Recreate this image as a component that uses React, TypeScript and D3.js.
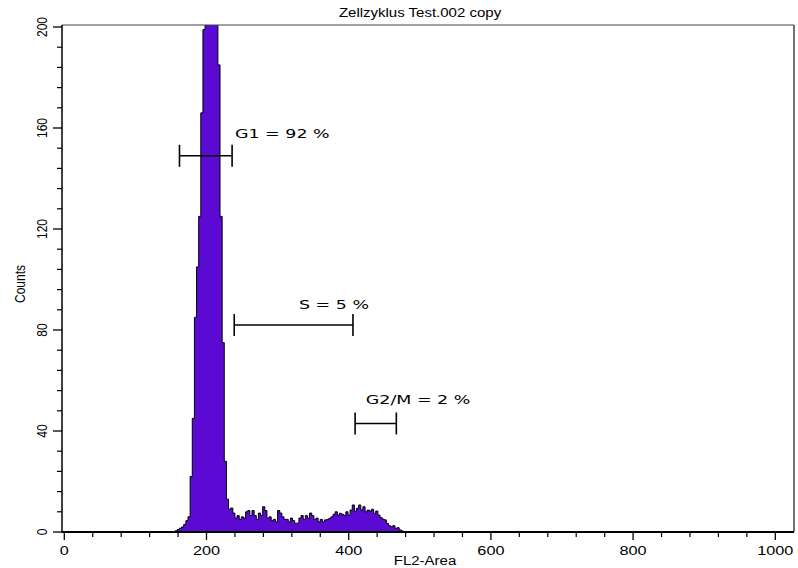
import React from 'react'
import * as d3 from 'd3'

// chart text
const title = 'Zellzyklus Test.002 copy'
const xLabel = 'FL2-Area'
const yLabel = 'Counts'

// histogram: counts per bin of 3 channels, first bin starts at channel 156
const binStart = 156
const binWidth = 3
const counts = [
  0.5, 1, 1.5, 2, 3, 4.5, 6, 22, 45, 85, 105, 125, 166, 199, 225, 250, 260, 255,
  240, 220, 185, 125, 75, 28, 13, 9,
  9.5, 7.5, 5.5, 6.5, 5, 6, 5.5, 8, 8.5, 6.5, 8.5, 6.5, 5, 7.5, 6.5, 10, 8.5,
  5.5, 6, 4.5, 5, 4, 8.5, 7.5, 6, 5, 5, 4, 5.5, 4.5, 3.5, 3.5, 5.5, 6.5, 5,
  6.5, 5.5, 7.5, 6.5, 5, 5.5, 4, 5,
  4, 4.8, 5, 5.4, 6, 7, 8, 6.7, 7.4, 7, 6.5, 8, 6.7, 8.7, 10.7, 8.2, 9.4, 10.7,
  8.7, 10, 8, 8.7, 8.3, 9, 7.4, 8.3, 6.7, 5.7, 5.1, 4.8, 3.4, 2.5, 2.1, 2.5,
  1.5, 1.7, 0.8, 0.4,
]

const xTicks = [0, 200, 400, 600, 800, 1000]
const yTicks = [0, 40, 80, 120, 160, 200]

// cell cycle markers (channels, count level, percent)
const markerNames = ['G1', 'S', 'G2/M']
const markerLow = [162, 239, 409]
const markerHigh = [236, 406, 467]
const markerLevel = [149, 82, 43]
const markerPercent = [92, 5, 2]
const labelChannel = [240, 330, 424]
const labelCount = [156, 88.5, 50.7]

const W = 798
const H = 568
const box = { left: 62, right: 794, top: 25, bottom: 532 }
const purple = '#5a0ad2'
const sans = 'Liberation Sans, Arial, sans-serif'

function Txt({ x, y, sx = 1, rot = false, anchor = 'middle', size = 12, family = sans, children }) {
  const t = rot
    ? `translate(${x},${y}) rotate(-90) scale(1,${sx})`
    : `translate(${x},${y}) scale(${sx},1)`
  return (
    <text transform={t} textAnchor={anchor} fontSize={size} fontFamily={family} fill="#000">
      {children}
    </text>
  )
}

export default function App() {
  const x = d3.scaleLinear().domain([0, 1000]).range([64.3, 775.3])
  const y = d3.scaleLinear().domain([0, 200]).range([532, 27])

  const pts: [number, number][] = [[binStart, 0]]
  counts.forEach((c, i) => pts.push([binStart + i * binWidth, c]))
  pts.push([binStart + counts.length * binWidth, 0])

  const area = d3
    .area<[number, number]>()
    .curve(d3.curveStepAfter)
    .x((d) => x(d[0]))
    .y0(y(0))
    .y1((d) => y(d[1]))
  const line = d3
    .line<[number, number]>()
    .curve(d3.curveStepAfter)
    .x((d) => x(d[0]))
    .y((d) => y(d[1]))

  const xMinor = d3.range(0, 1001, 40).filter((v) => v % 200 !== 0)
  const yMinor = d3.range(0, 201, 8).filter((v) => v % 40 !== 0)

  return (
    <svg
      width={W}
      height={H}
      style={{ position: 'absolute', left: 0, top: 0, background: '#fff' }}
    >
      <defs>
        <clipPath id="plot">
          <rect x={box.left} y={box.top} width={box.right - box.left} height={box.bottom - box.top} />
        </clipPath>
      </defs>

      <Txt x={420} y={17} sx={1.25} size={12}>{title}</Txt>

      <g clipPath="url(#plot)">
        <path d={area(pts)} fill={purple} />
        <path d={line(pts)} fill="none" stroke="#000" strokeWidth={1} />
      </g>

      {/* frame */}
      <line x1={box.left} x2={box.right} y1={box.top} y2={box.top} stroke="#444" strokeWidth={1.2} />
      <line x1={box.right} x2={box.right} y1={box.top} y2={box.bottom} stroke="#444" strokeWidth={1.5} />
      <line x1={box.left} x2={box.left} y1={box.top} y2={box.bottom + 1} stroke="#000" strokeWidth={1.5} />
      <line x1={box.left} x2={box.right} y1={box.bottom} y2={box.bottom} stroke="#000" strokeWidth={2} />

      {/* y axis */}
      {yTicks.map((v) => (
        <g key={'y' + v}>
          <line x1={53} x2={box.left} y1={y(v)} y2={y(v)} stroke="#000" strokeWidth={1.3} />
          <Txt x={47} y={y(v)} rot sx={1.2} size={12}>{v}</Txt>
        </g>
      ))}
      {yMinor.map((v) => (
        <line key={'ym' + v} x1={57} x2={box.left} y1={y(v)} y2={y(v)} stroke="#000" strokeWidth={1.2} />
      ))}
      <Txt x={25} y={284} rot sx={1.2} size={12}>{yLabel}</Txt>

      {/* x axis */}
      {xTicks.map((v) => (
        <g key={'x' + v}>
          <line x1={x(v)} x2={x(v)} y1={box.bottom} y2={box.bottom + 8} stroke="#000" strokeWidth={1.3} />
          <Txt x={x(v)} y={555} sx={1.25} size={13}>{v}</Txt>
        </g>
      ))}
      {xMinor.map((v) => (
        <line key={'xm' + v} x1={x(v)} x2={x(v)} y1={box.bottom} y2={box.bottom + 5} stroke="#000" strokeWidth={1.2} />
      ))}
      <Txt x={425} y={565} sx={1.25} size={12}>{xLabel}</Txt>

      {/* markers */}
      {markerNames.map((name, i) => {
        const ly = y(markerLevel[i])
        return (
          <g key={name} stroke="#000" strokeWidth={1.6}>
            <line x1={x(markerLow[i])} x2={x(markerHigh[i])} y1={ly} y2={ly} />
            <line x1={x(markerLow[i])} x2={x(markerLow[i])} y1={ly - 11} y2={ly + 11} />
            <line x1={x(markerHigh[i])} x2={x(markerHigh[i])} y1={ly - 11} y2={ly + 11} />
            <g stroke="none">
              <Txt
                x={x(labelChannel[i])}
                y={y(labelCount[i])}
                anchor="start"
                sx={1.42}
                size={12.3}
                family="DejaVu Sans, sans-serif"
              >
                {`${name} = ${markerPercent[i]} %`}
              </Txt>
            </g>
          </g>
        )
      })}
    </svg>
  )
}
